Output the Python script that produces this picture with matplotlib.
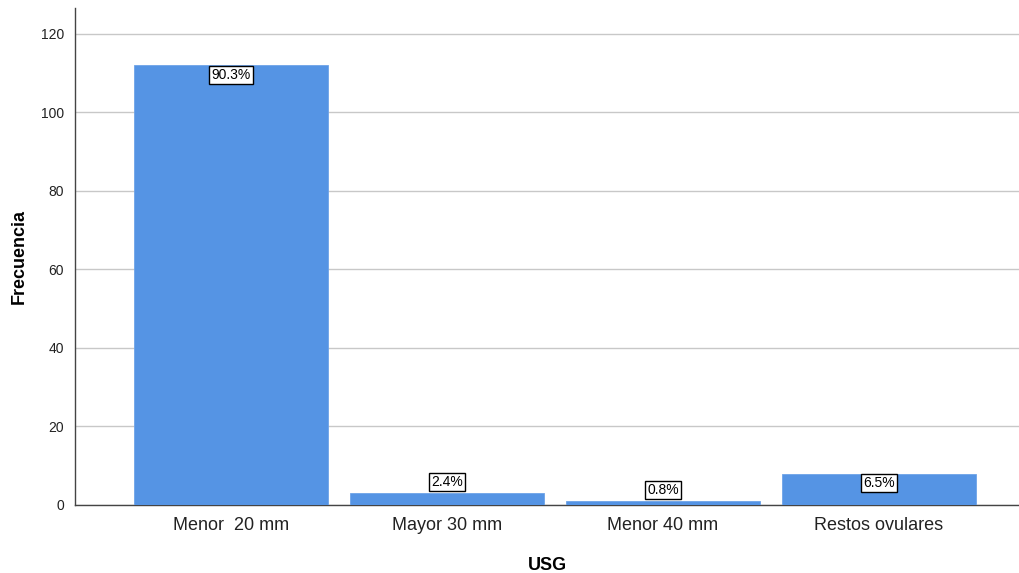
import matplotlib
matplotlib.use("Agg")
from matplotlib import pyplot as plt

categories = ["Menor  20 mm", "Mayor 30 mm", "Menor 40 mm", "Restos ovulares"]
counts = [112, 3, 1, 8]
percent_labels = ["90.3%", "2.4%", "0.8%", "6.5%"]

plt.rcParams["font.family"] = ["Liberation Sans", "DejaVu Sans"]

fig = plt.figure(figsize=(10.2, 5.73), dpi=100)
ax = fig.add_axes([75 / 1020, 1 - 505 / 573, 945 / 1020, 497 / 573])

x = range(len(categories))
bars = ax.bar(x, counts, width=0.895, color="#5594e4", edgecolor="#6ea3e8",
              linewidth=0.6, zorder=3)

ax.set_xlim(-0.722, 3.653)
ax.set_ylim(0, 126.6)
ax.set_yticks([0, 20, 40, 60, 80, 100, 120])
ax.grid(axis="y", color="#c8c8c8", linewidth=1, zorder=0)
ax.set_xticks(list(x))
ax.set_xticklabels(categories, fontsize=13, color="#222222")
ax.tick_params(axis="y", length=0, pad=8, labelsize=10, labelcolor="#222222")
ax.tick_params(axis="x", length=0, pad=9)

for side in ["top", "right"]:
    ax.spines[side].set_visible(False)
for side in ["left", "bottom"]:
    ax.spines[side].set_color("#444444")
    ax.spines[side].set_linewidth(1)

ax.set_xlabel("USG", fontsize=13, fontweight="bold", labelpad=16)
ax.set_ylabel("Frecuencia", fontsize=13, fontweight="bold", labelpad=9)

# put the label inside the bar if it is tall enough, otherwise above
px_per_unit = 497 / 126.6
for bar, lab in zip(bars, percent_labels):
    h = bar.get_height()
    off = -7 if h * px_per_unit > 25 else 8
    ax.annotate(lab, (bar.get_x() + bar.get_width() / 2, h),
                xytext=(0, off), textcoords="offset points",
                ha="center", va="center", fontsize=10, zorder=5,
                bbox=dict(boxstyle="square,pad=0.15", fc="white",
                          ec="black", lw=1))

fig.savefig("out.png", dpi=100)
